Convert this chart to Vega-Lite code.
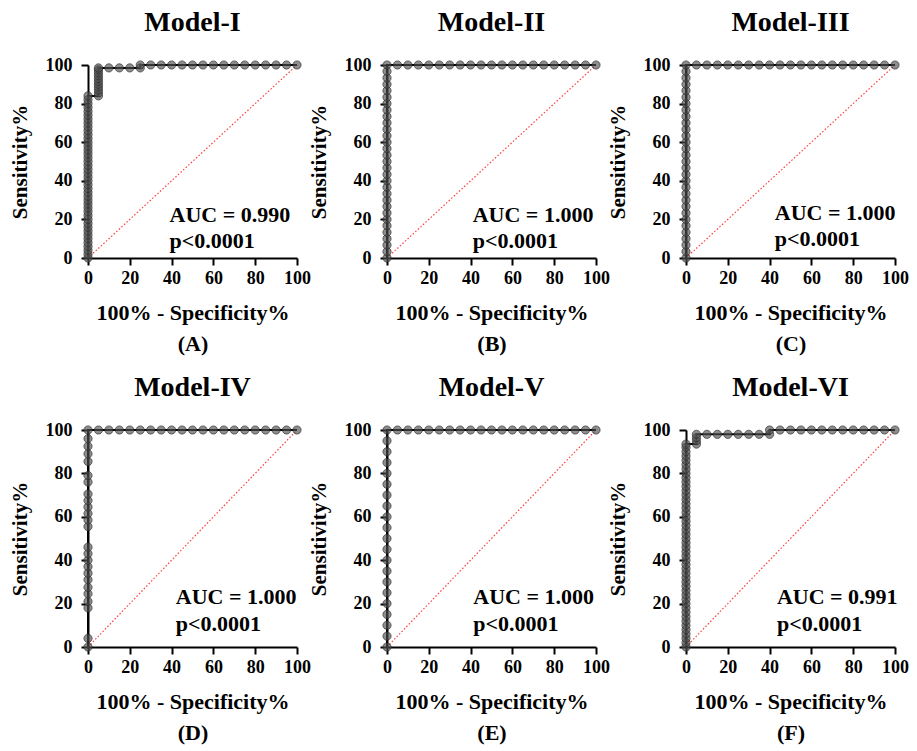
{
  "$schema": "https://vega.github.io/schema/vega-lite/v6.json",
  "padding": {"left": 9, "top": 9, "right": 5, "bottom": 5},
  "background": "white",
  "datasets": {
    "diag": [{"x": 0, "y": 0}, {"x": 100, "y": 100}],
    "labels": [
      {"p": "A", "t": ["AUC = 0.990", "p<0.0001"]},
      {"p": "B", "t": ["AUC = 1.000", "p<0.0001"]},
      {"p": "C", "t": ["AUC = 1.000", "p<0.0001"]},
      {"p": "D", "t": ["AUC = 1.000", "p<0.0001"]},
      {"p": "E", "t": ["AUC = 1.000", "p<0.0001"]},
      {"p": "F", "t": ["AUC = 0.991", "p<0.0001"]}
    ],
    "I": [
      {"x":0,"y":0},{"x":0,"y":2},{"x":0,"y":4},{"x":0,"y":6},{"x":0,"y":8},{"x":0,"y":10},{"x":0,"y":12},{"x":0,"y":14},{"x":0,"y":16},{"x":0,"y":18},{"x":0,"y":20},{"x":0,"y":22},{"x":0,"y":24},{"x":0,"y":26},{"x":0,"y":28},{"x":0,"y":30},{"x":0,"y":32},{"x":0,"y":34},{"x":0,"y":36},{"x":0,"y":38},{"x":0,"y":40},{"x":0,"y":42},{"x":0,"y":44},{"x":0,"y":46},{"x":0,"y":48},{"x":0,"y":50},{"x":0,"y":52},{"x":0,"y":54},{"x":0,"y":56},{"x":0,"y":58},{"x":0,"y":60},{"x":0,"y":62},{"x":0,"y":64},{"x":0,"y":66},{"x":0,"y":68},{"x":0,"y":70},{"x":0,"y":72},{"x":0,"y":74},{"x":0,"y":76},{"x":0,"y":78},{"x":0,"y":80},{"x":0,"y":82},{"x":0,"y":84},
      {"x":5,"y":84},{"x":5,"y":85.5},{"x":5,"y":87},{"x":5,"y":88.5},{"x":5,"y":90},{"x":5,"y":91.5},{"x":5,"y":93},{"x":5,"y":94.5},{"x":5,"y":96},{"x":5,"y":97.5},{"x":5,"y":98.5},
      {"x":10,"y":98.5},{"x":15,"y":98.5},{"x":20,"y":98.5},{"x":25,"y":98.5},
      {"x":25,"y":100},{"x":30,"y":100},{"x":35,"y":100},{"x":40,"y":100},{"x":45,"y":100},{"x":50,"y":100},{"x":55,"y":100},{"x":60,"y":100},{"x":65,"y":100},{"x":70,"y":100},{"x":75,"y":100},{"x":80,"y":100},{"x":85,"y":100},{"x":90,"y":100},{"x":95,"y":100},{"x":100,"y":100}
    ],
    "II": [
      {"x":0,"y":0},{"x":0,"y":3.3},{"x":0,"y":6.7},{"x":0,"y":10},{"x":0,"y":13.3},{"x":0,"y":16.7},{"x":0,"y":20},{"x":0,"y":23.3},{"x":0,"y":26.7},{"x":0,"y":30},{"x":0,"y":33.3},{"x":0,"y":36.7},{"x":0,"y":40},{"x":0,"y":43.3},{"x":0,"y":46.7},{"x":0,"y":50},{"x":0,"y":53.3},{"x":0,"y":56.7},{"x":0,"y":60},{"x":0,"y":63.3},{"x":0,"y":66.7},{"x":0,"y":70},{"x":0,"y":73.3},{"x":0,"y":76.7},{"x":0,"y":80},{"x":0,"y":83.3},{"x":0,"y":86.7},{"x":0,"y":90},{"x":0,"y":93.3},{"x":0,"y":96.7},{"x":0,"y":100},
      {"x":5,"y":100},{"x":10,"y":100},{"x":15,"y":100},{"x":20,"y":100},{"x":25,"y":100},{"x":30,"y":100},{"x":35,"y":100},{"x":40,"y":100},{"x":45,"y":100},{"x":50,"y":100},{"x":55,"y":100},{"x":60,"y":100},{"x":65,"y":100},{"x":70,"y":100},{"x":75,"y":100},{"x":80,"y":100},{"x":85,"y":100},{"x":90,"y":100},{"x":95,"y":100},{"x":100,"y":100}
    ],
    "III": [
      {"x":0,"y":0},{"x":0,"y":3.3},{"x":0,"y":6.7},{"x":0,"y":10},{"x":0,"y":13.3},{"x":0,"y":16.7},{"x":0,"y":20},{"x":0,"y":23.3},{"x":0,"y":26.7},{"x":0,"y":30},{"x":0,"y":33.3},{"x":0,"y":36.7},{"x":0,"y":40},{"x":0,"y":43.3},{"x":0,"y":46.7},{"x":0,"y":50},{"x":0,"y":53.3},{"x":0,"y":56.7},{"x":0,"y":60},{"x":0,"y":63.3},{"x":0,"y":66.7},{"x":0,"y":70},{"x":0,"y":73.3},{"x":0,"y":76.7},{"x":0,"y":80},{"x":0,"y":83.3},{"x":0,"y":86.7},{"x":0,"y":90},{"x":0,"y":93.3},{"x":0,"y":96.7},{"x":0,"y":100},
      {"x":5,"y":100},{"x":10,"y":100},{"x":15,"y":100},{"x":20,"y":100},{"x":25,"y":100},{"x":30,"y":100},{"x":35,"y":100},{"x":40,"y":100},{"x":45,"y":100},{"x":50,"y":100},{"x":55,"y":100},{"x":60,"y":100},{"x":65,"y":100},{"x":70,"y":100},{"x":75,"y":100},{"x":80,"y":100},{"x":85,"y":100},{"x":90,"y":100},{"x":95,"y":100},{"x":100,"y":100}
    ],
    "IV": [
      {"x":0,"y":0},{"x":0,"y":4},{"x":0,"y":18},{"x":0,"y":21},{"x":0,"y":24.5},{"x":0,"y":27.5},{"x":0,"y":31},{"x":0,"y":34},{"x":0,"y":37},{"x":0,"y":40},{"x":0,"y":43},{"x":0,"y":46},{"x":0,"y":55.5},{"x":0,"y":58.5},{"x":0,"y":61.5},{"x":0,"y":64.5},{"x":0,"y":67.5},{"x":0,"y":70.5},{"x":0,"y":76},{"x":0,"y":79},{"x":0,"y":85.5},{"x":0,"y":89},{"x":0,"y":92.5},{"x":0,"y":96},{"x":0,"y":100},
      {"x":5,"y":100},{"x":10,"y":100},{"x":15,"y":100},{"x":20,"y":100},{"x":25,"y":100},{"x":30,"y":100},{"x":35,"y":100},{"x":40,"y":100},{"x":45,"y":100},{"x":50,"y":100},{"x":55,"y":100},{"x":60,"y":100},{"x":65,"y":100},{"x":70,"y":100},{"x":75,"y":100},{"x":80,"y":100},{"x":85,"y":100},{"x":90,"y":100},{"x":95,"y":100},{"x":100,"y":100}
    ],
    "V": [
      {"x":0,"y":0},{"x":0,"y":5},{"x":0,"y":10},{"x":0,"y":15},{"x":0,"y":20},{"x":0,"y":25},{"x":0,"y":30},{"x":0,"y":35},{"x":0,"y":40},{"x":0,"y":45},{"x":0,"y":50},{"x":0,"y":55},{"x":0,"y":60},{"x":0,"y":65},{"x":0,"y":70},{"x":0,"y":75},{"x":0,"y":80},{"x":0,"y":85},{"x":0,"y":90},{"x":0,"y":95},{"x":0,"y":100},
      {"x":5,"y":100},{"x":10,"y":100},{"x":15,"y":100},{"x":20,"y":100},{"x":25,"y":100},{"x":30,"y":100},{"x":35,"y":100},{"x":40,"y":100},{"x":45,"y":100},{"x":50,"y":100},{"x":55,"y":100},{"x":60,"y":100},{"x":65,"y":100},{"x":70,"y":100},{"x":75,"y":100},{"x":80,"y":100},{"x":85,"y":100},{"x":90,"y":100},{"x":95,"y":100},{"x":100,"y":100}
    ],
    "VI": [
      {"x":0,"y":0},{"x":0,"y":2},{"x":0,"y":4},{"x":0,"y":6},{"x":0,"y":8},{"x":0,"y":10},{"x":0,"y":12},{"x":0,"y":14},{"x":0,"y":16},{"x":0,"y":18},{"x":0,"y":20},{"x":0,"y":22},{"x":0,"y":24},{"x":0,"y":26},{"x":0,"y":28},{"x":0,"y":30},{"x":0,"y":32},{"x":0,"y":34},{"x":0,"y":36},{"x":0,"y":38},{"x":0,"y":40},{"x":0,"y":42},{"x":0,"y":44},{"x":0,"y":46},{"x":0,"y":48},{"x":0,"y":50},{"x":0,"y":52},{"x":0,"y":54},{"x":0,"y":56},{"x":0,"y":58},{"x":0,"y":60},{"x":0,"y":62},{"x":0,"y":64},{"x":0,"y":66},{"x":0,"y":68},{"x":0,"y":70},{"x":0,"y":72},{"x":0,"y":74},{"x":0,"y":76},{"x":0,"y":78},{"x":0,"y":80},{"x":0,"y":82},{"x":0,"y":84},{"x":0,"y":86},{"x":0,"y":88},{"x":0,"y":90},{"x":0,"y":92},{"x":0,"y":93.5},
      {"x":5,"y":93.5},{"x":5,"y":95},{"x":5,"y":96.5},{"x":5,"y":98},
      {"x":10,"y":98},{"x":15,"y":98},{"x":20,"y":98},{"x":25,"y":98},{"x":30,"y":98},{"x":35,"y":98},{"x":40,"y":98},
      {"x":40,"y":100},{"x":45,"y":100},{"x":50,"y":100},{"x":55,"y":100},{"x":60,"y":100},{"x":65,"y":100},{"x":70,"y":100},{"x":75,"y":100},{"x":80,"y":100},{"x":85,"y":100},{"x":90,"y":100},{"x":95,"y":100},{"x":100,"y":100}
    ]
  },
  "columns": 3,
  "spacing": {"row": 172, "column": 90},
  "bounds": "flush",
  "concat": [
    {
      "title": "Model-I", "width": 209, "height": 193,
      "layer": [
        {
          "encoding": {
            "x": {"field": "x", "type": "quantitative", "scale": {"domain": [0, 100]}, "axis": {"values": [0,20,40,60,80,100], "labelOverlap": false, "title": ["100% - Specificity%", "(A)"]}},
            "y": {"field": "y", "type": "quantitative", "scale": {"domain": [0, 100]}, "axis": {"values": [0,20,40,60,80,100], "labelOverlap": false, "title": "Sensitivity%"}}
          },
          "layer": [
            {"data": {"name": "diag"}, "mark": {"type": "line", "color": "#ff3b3b", "strokeWidth": 1.2, "strokeDash": [1.5, 2]}, "encoding": {}},
            {"data": {"name": "I"}, "mark": {"type": "line", "color": "black", "strokeWidth": 2}, "encoding": {"order": [{"field": "x"}, {"field": "y"}]}},
            {"data": {"name": "I"}, "mark": {"type": "point", "filled": true, "color": "#505050", "fillOpacity": 0.65, "stroke": "#2a2a2a", "strokeOpacity": 0.8, "strokeWidth": 0.8, "size": 68}}
          ]
        },
        {"data": {"name": "labels"}, "transform": [{"filter": "datum.p === 'A'"}], "mark": {"type": "text", "align": "left", "baseline": "alphabetic", "font": "Liberation Serif", "fontWeight": "bold", "fontSize": 22, "lineHeight": 26, "color": "black"}, "encoding": {"x": {"datum": 39, "type": "quantitative", "axis": {"values": [0,20,40,60,80,100], "labelOverlap": false, "title": ["100% - Specificity%", "(A)"]}}, "y": {"datum": 18.6, "type": "quantitative", "axis": {"values": [0,20,40,60,80,100], "labelOverlap": false, "title": "Sensitivity%"}}, "text": {"field": "t"}}}
      ]
    },
    {
      "title": "Model-II", "width": 209, "height": 193,
      "layer": [
        {
          "encoding": {
            "x": {"field": "x", "type": "quantitative", "scale": {"domain": [0, 100]}, "axis": {"values": [0,20,40,60,80,100], "labelOverlap": false, "title": ["100% - Specificity%", "(B)"]}},
            "y": {"field": "y", "type": "quantitative", "scale": {"domain": [0, 100]}, "axis": {"values": [0,20,40,60,80,100], "labelOverlap": false, "title": "Sensitivity%"}}
          },
          "layer": [
            {"data": {"name": "diag"}, "mark": {"type": "line", "color": "#ff3b3b", "strokeWidth": 1.2, "strokeDash": [1.5, 2]}, "encoding": {}},
            {"data": {"name": "II"}, "mark": {"type": "line", "color": "black", "strokeWidth": 2}, "encoding": {"order": [{"field": "x"}, {"field": "y"}]}},
            {"data": {"name": "II"}, "mark": {"type": "point", "filled": true, "color": "#505050", "fillOpacity": 0.65, "stroke": "#2a2a2a", "strokeOpacity": 0.8, "strokeWidth": 0.8, "size": 68}}
          ]
        },
        {"data": {"name": "labels"}, "transform": [{"filter": "datum.p === 'B'"}], "mark": {"type": "text", "align": "left", "baseline": "alphabetic", "font": "Liberation Serif", "fontWeight": "bold", "fontSize": 22, "lineHeight": 26, "color": "black"}, "encoding": {"x": {"datum": 41, "type": "quantitative", "axis": {"values": [0,20,40,60,80,100], "labelOverlap": false, "title": ["100% - Specificity%", "(B)"]}}, "y": {"datum": 18.6, "type": "quantitative", "axis": {"values": [0,20,40,60,80,100], "labelOverlap": false, "title": "Sensitivity%"}}, "text": {"field": "t"}}}
      ]
    },
    {
      "title": "Model-III", "width": 209, "height": 193,
      "layer": [
        {
          "encoding": {
            "x": {"field": "x", "type": "quantitative", "scale": {"domain": [0, 100]}, "axis": {"values": [0,20,40,60,80,100], "labelOverlap": false, "title": ["100% - Specificity%", "(C)"]}},
            "y": {"field": "y", "type": "quantitative", "scale": {"domain": [0, 100]}, "axis": {"values": [0,20,40,60,80,100], "labelOverlap": false, "title": "Sensitivity%"}}
          },
          "layer": [
            {"data": {"name": "diag"}, "mark": {"type": "line", "color": "#ff3b3b", "strokeWidth": 1.2, "strokeDash": [1.5, 2]}, "encoding": {}},
            {"data": {"name": "III"}, "mark": {"type": "line", "color": "black", "strokeWidth": 2}, "encoding": {"order": [{"field": "x"}, {"field": "y"}]}},
            {"data": {"name": "III"}, "mark": {"type": "point", "filled": true, "color": "#505050", "fillOpacity": 0.65, "stroke": "#2a2a2a", "strokeOpacity": 0.8, "strokeWidth": 0.8, "size": 68}}
          ]
        },
        {"data": {"name": "labels"}, "transform": [{"filter": "datum.p === 'C'"}], "mark": {"type": "text", "align": "left", "baseline": "alphabetic", "font": "Liberation Serif", "fontWeight": "bold", "fontSize": 22, "lineHeight": 26, "color": "black"}, "encoding": {"x": {"datum": 42.5, "type": "quantitative", "axis": {"values": [0,20,40,60,80,100], "labelOverlap": false, "title": ["100% - Specificity%", "(C)"]}}, "y": {"datum": 19.5, "type": "quantitative", "axis": {"values": [0,20,40,60,80,100], "labelOverlap": false, "title": "Sensitivity%"}}, "text": {"field": "t"}}}
      ]
    },
    {
      "title": "Model-IV", "width": 209, "height": 217,
      "layer": [
        {
          "encoding": {
            "x": {"field": "x", "type": "quantitative", "scale": {"domain": [0, 100]}, "axis": {"values": [0,20,40,60,80,100], "labelOverlap": false, "title": ["100% - Specificity%", "(D)"]}},
            "y": {"field": "y", "type": "quantitative", "scale": {"domain": [0, 100]}, "axis": {"values": [0,20,40,60,80,100], "labelOverlap": false, "title": "Sensitivity%"}}
          },
          "layer": [
            {"data": {"name": "diag"}, "mark": {"type": "line", "color": "#ff3b3b", "strokeWidth": 1.2, "strokeDash": [1.5, 2]}, "encoding": {}},
            {"data": {"name": "IV"}, "mark": {"type": "line", "color": "black", "strokeWidth": 2}, "encoding": {"order": [{"field": "x"}, {"field": "y"}]}},
            {"data": {"name": "IV"}, "mark": {"type": "point", "filled": true, "color": "#505050", "fillOpacity": 0.65, "stroke": "#2a2a2a", "strokeOpacity": 0.8, "strokeWidth": 0.8, "size": 68}}
          ]
        },
        {"data": {"name": "labels"}, "transform": [{"filter": "datum.p === 'D'"}], "mark": {"type": "text", "align": "left", "baseline": "alphabetic", "font": "Liberation Serif", "fontWeight": "bold", "fontSize": 22, "lineHeight": 27, "color": "black"}, "encoding": {"x": {"datum": 42, "type": "quantitative", "axis": {"values": [0,20,40,60,80,100], "labelOverlap": false, "title": ["100% - Specificity%", "(D)"]}}, "y": {"datum": 19.8, "type": "quantitative", "axis": {"values": [0,20,40,60,80,100], "labelOverlap": false, "title": "Sensitivity%"}}, "text": {"field": "t"}}}
      ]
    },
    {
      "title": "Model-V", "width": 209, "height": 217,
      "layer": [
        {
          "encoding": {
            "x": {"field": "x", "type": "quantitative", "scale": {"domain": [0, 100]}, "axis": {"values": [0,20,40,60,80,100], "labelOverlap": false, "title": ["100% - Specificity%", "(E)"]}},
            "y": {"field": "y", "type": "quantitative", "scale": {"domain": [0, 100]}, "axis": {"values": [0,20,40,60,80,100], "labelOverlap": false, "title": "Sensitivity%"}}
          },
          "layer": [
            {"data": {"name": "diag"}, "mark": {"type": "line", "color": "#ff3b3b", "strokeWidth": 1.2, "strokeDash": [1.5, 2]}, "encoding": {}},
            {"data": {"name": "V"}, "mark": {"type": "line", "color": "black", "strokeWidth": 2}, "encoding": {"order": [{"field": "x"}, {"field": "y"}]}},
            {"data": {"name": "V"}, "mark": {"type": "point", "filled": true, "color": "#505050", "fillOpacity": 0.65, "stroke": "#2a2a2a", "strokeOpacity": 0.8, "strokeWidth": 0.8, "size": 68}}
          ]
        },
        {"data": {"name": "labels"}, "transform": [{"filter": "datum.p === 'E'"}], "mark": {"type": "text", "align": "left", "baseline": "alphabetic", "font": "Liberation Serif", "fontWeight": "bold", "fontSize": 22, "lineHeight": 27, "color": "black"}, "encoding": {"x": {"datum": 41.3, "type": "quantitative", "axis": {"values": [0,20,40,60,80,100], "labelOverlap": false, "title": ["100% - Specificity%", "(E)"]}}, "y": {"datum": 19.8, "type": "quantitative", "axis": {"values": [0,20,40,60,80,100], "labelOverlap": false, "title": "Sensitivity%"}}, "text": {"field": "t"}}}
      ]
    },
    {
      "title": "Model-VI", "width": 209, "height": 217,
      "layer": [
        {
          "encoding": {
            "x": {"field": "x", "type": "quantitative", "scale": {"domain": [0, 100]}, "axis": {"values": [0,20,40,60,80,100], "labelOverlap": false, "title": ["100% - Specificity%", "(F)"]}},
            "y": {"field": "y", "type": "quantitative", "scale": {"domain": [0, 100]}, "axis": {"values": [0,20,40,60,80,100], "labelOverlap": false, "title": "Sensitivity%"}}
          },
          "layer": [
            {"data": {"name": "diag"}, "mark": {"type": "line", "color": "#ff3b3b", "strokeWidth": 1.2, "strokeDash": [1.5, 2]}, "encoding": {}},
            {"data": {"name": "VI"}, "mark": {"type": "line", "color": "black", "strokeWidth": 2}, "encoding": {"order": [{"field": "x"}, {"field": "y"}]}},
            {"data": {"name": "VI"}, "mark": {"type": "point", "filled": true, "color": "#505050", "fillOpacity": 0.65, "stroke": "#2a2a2a", "strokeOpacity": 0.8, "strokeWidth": 0.8, "size": 68}}
          ]
        },
        {"data": {"name": "labels"}, "transform": [{"filter": "datum.p === 'F'"}], "mark": {"type": "text", "align": "left", "baseline": "alphabetic", "font": "Liberation Serif", "fontWeight": "bold", "fontSize": 22, "lineHeight": 27, "color": "black"}, "encoding": {"x": {"datum": 43.5, "type": "quantitative", "axis": {"values": [0,20,40,60,80,100], "labelOverlap": false, "title": ["100% - Specificity%", "(F)"]}}, "y": {"datum": 19.8, "type": "quantitative", "axis": {"values": [0,20,40,60,80,100], "labelOverlap": false, "title": "Sensitivity%"}}, "text": {"field": "t"}}}
      ]
    }
  ],
  "config": {
    "font": "Liberation Serif",
    "view": {"stroke": null},
    "axis": {
      "grid": false, "zindex": 1,
      "domainColor": "black", "domainWidth": 2,
      "tickColor": "black", "tickWidth": 2, "tickSize": 7,
      "labelFont": "Liberation Serif", "labelFontWeight": "bold", "labelFontSize": 18, "labelColor": "black",
      "labelFlush": false, "labelOverlap": false,
      "titleFont": "Liberation Serif", "titleFontWeight": "bold", "titleColor": "black"
    },
    "axisX": {"labelPadding": 4, "titlePadding": 15, "titleLineHeight": 31, "titleFontSize": 22},
    "axisY": {"labelPadding": 9, "titlePadding": 15, "titleFontSize": 21},
    "title": {"font": "Liberation Serif", "fontWeight": "bold", "fontSize": 28, "color": "black", "anchor": "middle", "frame": "group", "offset": 19}
  }
}
